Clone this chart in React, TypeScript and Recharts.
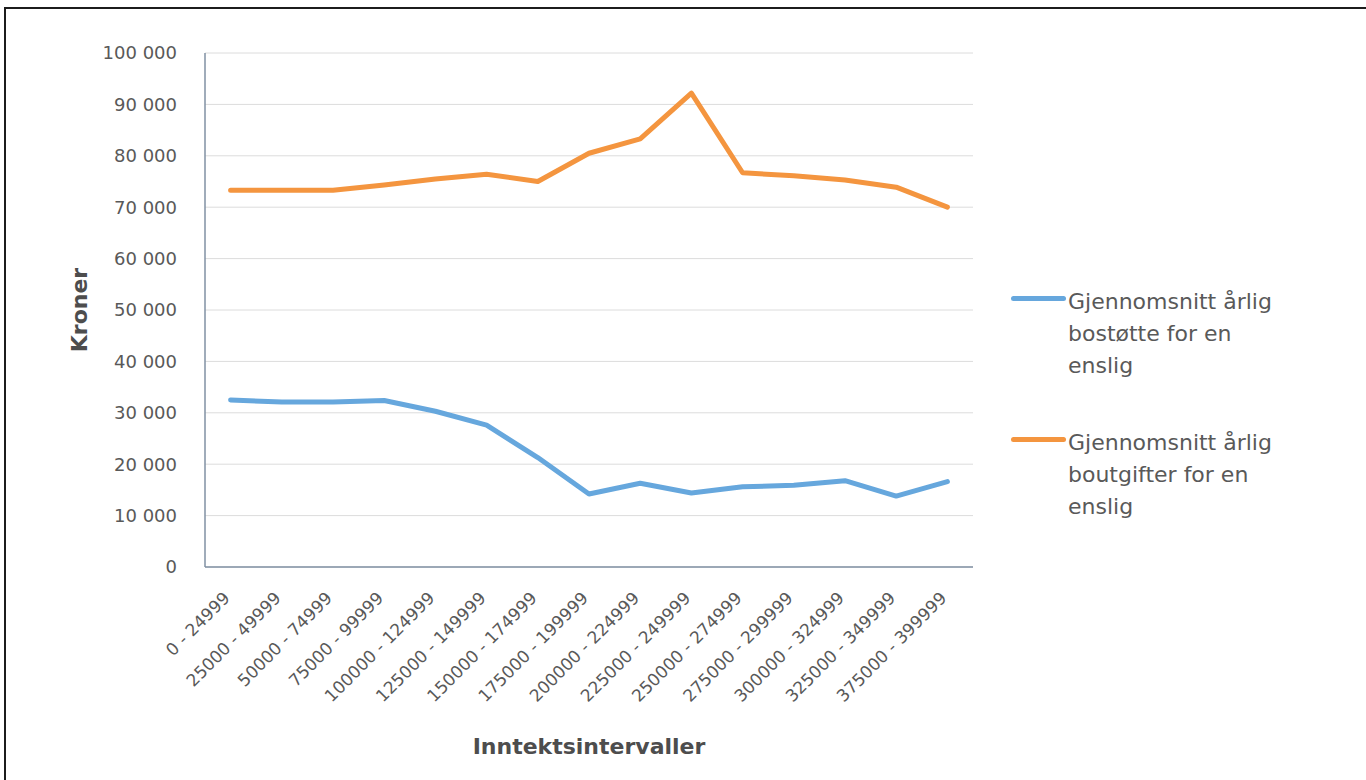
import { LineChart, Line, XAxis, YAxis, CartesianGrid, Legend, Label } from 'recharts'

// income intervals (note: 350000 - 374999 is not in the source)
const intervals = [
  '0 - 24999',
  '25000 - 49999',
  '50000 - 74999',
  '75000 - 99999',
  '100000 - 124999',
  '125000 - 149999',
  '150000 - 174999',
  '175000 - 199999',
  '200000 - 224999',
  '225000 - 249999',
  '250000 - 274999',
  '275000 - 299999',
  '300000 - 324999',
  '325000 - 349999',
  '375000 - 399999',
]

const bostotte = [32500, 32100, 32100, 32400, 30300, 27600, 21300, 14200, 16300, 14400, 15600, 15900, 16800, 13800, 16600]
const boutgifter = [73300, 73300, 73300, 74300, 75500, 76400, 75000, 80500, 83300, 92200, 76700, 76100, 75300, 73900, 70000]

const yTicks = [0, 10000, 20000, 30000, 40000, 50000, 60000, 70000, 80000, 90000, 100000]

const data = intervals.map((interval, i) => ({
  interval,
  bostotte: bostotte[i],
  boutgifter: boutgifter[i],
}))

const BLUE = '#66A7DD'
const ORANGE = '#F4953F'
const TEXT = '#595959'
const AXIS = '#8090A3'
const FONT = '"DejaVu Sans", sans-serif'

const fmt = (v: number) => String(v).replace(/\B(?=(\d{3})+(?!\d))/g, ' ')

function IntervalTick({ x, y, payload }: any) {
  const tx = x - 4
  return (
    <text
      x={tx}
      y={y}
      transform={`rotate(-45, ${tx}, ${y})`}
      textAnchor="end"
      dy="0.35em"
      fill={TEXT}
      fontSize={17}
    >
      {payload.value}
    </text>
  )
}

function LegendBox({ payload }: any) {
  return (
    <div style={{ fontFamily: FONT, textAlign: 'left' }}>
      {(payload || []).map((item: any, i: number) => (
        <div key={i} style={{ display: 'flex', marginBottom: i === 0 ? 45 : 0 }}>
          <div style={{ width: 60, flex: '0 0 60px', position: 'relative', height: 32 }}>
            <div
              style={{
                position: 'absolute',
                left: 3,
                top: 10,
                width: 55,
                height: 5,
                borderRadius: 3,
                background: item.color,
              }}
            />
          </div>
          <div style={{ width: 222, fontSize: 22, lineHeight: '32px', color: TEXT }}>{item.value}</div>
        </div>
      ))}
    </div>
  )
}

export default function App() {
  return (
    <div
      style={{
        position: 'absolute',
        left: 0,
        top: 0,
        width: 1366,
        height: 780,
        background: '#fff',
        overflow: 'hidden',
        fontFamily: FONT,
      }}
    >
      <div
        style={{
          position: 'absolute',
          left: 4,
          top: 7,
          width: 1400,
          height: 800,
          borderTop: '2px solid #1c1c1c',
          borderLeft: '2px solid #1c1c1c',
        }}
      />
      <div style={{ position: 'absolute', left: 0, top: 0 }}>
        <LineChart width={1366} height={780} data={data} margin={{ top: 53, right: 393, left: 0, bottom: 63 }}>
          <CartesianGrid vertical={false} stroke="#DCDCDC" strokeWidth={1} />
          <XAxis
            dataKey="interval"
            height={150}
            interval={0}
            padding={{ left: 25.6, right: 25.6 }}
            axisLine={{ stroke: AXIS, strokeWidth: 1.5 }}
            tickLine={false}
            tickMargin={22}
            tick={<IntervalTick />}
          >
            <Label
              content={() => (
                <text x={589} y={746} dy="0.35em" textAnchor="middle" fontSize={22} fontWeight="bold" fill="#4D4D4D">
                  Inntektsintervaller
                </text>
              )}
            />
          </XAxis>
          <YAxis
            type="number"
            width={205}
            domain={[0, 100000]}
            ticks={yTicks}
            interval={0}
            tickFormatter={fmt}
            axisLine={{ stroke: AXIS, strokeWidth: 1.5 }}
            tickLine={false}
            tickMargin={22}
            tick={{ fill: TEXT, fontSize: 18 }}
          >
            <Label
              content={() => (
                <text
                  x={79}
                  y={310}
                  dy="0.35em"
                  transform="rotate(-90, 79, 310)"
                  textAnchor="middle"
                  fontSize={22}
                  fontWeight="bold"
                  fill="#4D4D4D"
                >
                  Kroner
                </text>
              )}
            />
          </YAxis>
          <Legend
            layout="horizontal"
            verticalAlign="middle"
            align="center"
            wrapperStyle={{ left: 1008, top: 286, width: 340 }}
            content={<LegendBox />}
          />
          <Line
            type="linear"
            dataKey="bostotte"
            name="Gjennomsnitt årlig bostøtte for en enslig"
            stroke={BLUE}
            strokeWidth={5}
            strokeLinecap="round"
            strokeLinejoin="round"
            dot={false}
            activeDot={false}
            isAnimationActive={false}
          />
          <Line
            type="linear"
            dataKey="boutgifter"
            name="Gjennomsnitt årlig boutgifter for en enslig"
            stroke={ORANGE}
            strokeWidth={5}
            strokeLinecap="round"
            strokeLinejoin="round"
            dot={false}
            activeDot={false}
            isAnimationActive={false}
          />
        </LineChart>
      </div>
    </div>
  )
}
